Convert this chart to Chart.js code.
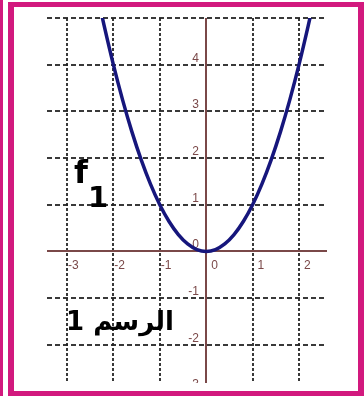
<!DOCTYPE html>
<html>
<head>
<meta charset="utf-8">
<script src="https://cdn.jsdelivr.net/npm/chart.js@4.4.1/dist/chart.umd.min.js"></script>
<style>
html,body{margin:0;padding:0;background:#fff;overflow:hidden;}
#wrap{position:relative;width:364px;height:396px;}
canvas{display:block;}
</style>
</head>
<body>
<div id="wrap"><canvas id="c" width="364" height="396"></canvas></div>
<script>
// values
const curveX = [-2.30,-2.20,-2.00,-1.80,-1.60,-1.40,-1.20,-1.00,-0.80,-0.60,-0.40,-0.20,0.00,0.20,0.40,0.60,0.80,1.00,1.20,1.40,1.60,1.80,2.00,2.20,2.30];
const curveY = [5.29,4.84,4.00,3.24,2.56,1.96,1.44,1.00,0.64,0.36,0.16,0.04,0.00,0.04,0.16,0.36,0.64,1.00,1.44,1.96,2.56,3.24,4.00,4.84,5.29];
const xTicks = [-3,-2,-1,0,1,2];
const xTickLabels = ["-3","-2","-1","0","1","2"];
const yTicks = [-3,-2,-1,0,1,2,3,4];
const yTickLabels = ["-3","-2","-1","0","1","2","3","4"];
const yGrid = [-2,-1,1,2,3,4,5];
const xGrid = [-3,-2,-1,1,2];
const curveName = "f";
const curveSub = "1";
const figureCaption = "الرسم 1";

const PINK = '#d2197e';
const AXIS = '#7a4848';
const GRID = 'rgba(35,35,35,0.9)';

const framePlugin = {
  id: 'frame',
  beforeDraw(chart) {
    const ctx = chart.ctx;
    ctx.save();
    ctx.fillStyle = '#fff';
    ctx.fillRect(0, 0, chart.width, chart.height);
    ctx.fillStyle = PINK;
    ctx.fillRect(0, 0, 3, 396);      // outer left band
    ctx.fillRect(8, 2, 6, 394);      // inner left
    ctx.fillRect(8, 2, 356, 5);      // top
    ctx.fillRect(358, 2, 6, 394);    // right
    ctx.fillRect(8, 391, 356, 5);    // bottom
    ctx.restore();
  }
};

const gridPlugin = {
  id: 'gridAxes',
  beforeDatasetsDraw(chart) {
    const {ctx, chartArea: a, scales: {x, y}} = chart;
    ctx.save();
    ctx.beginPath();
    ctx.rect(a.left, a.top - 1, a.right - a.left + 3, a.bottom - a.top + 1);
    ctx.clip();
    ctx.strokeStyle = GRID;
    ctx.lineWidth = 2;
    // horizontal grid
    ctx.setLineDash([5, 3]);
    yGrid.forEach(v => {
      const py = Math.round(y.getPixelForValue(v));
      ctx.beginPath();
      ctx.moveTo(a.left, py);
      ctx.lineTo(a.right, py);
      ctx.stroke();
    });
    // vertical grid
    ctx.setLineDash([3, 2]);
    xGrid.forEach(v => {
      const px = Math.round(x.getPixelForValue(v));
      ctx.beginPath();
      ctx.moveTo(px, a.top);
      ctx.lineTo(px, a.bottom);
      ctx.stroke();
    });
    ctx.setLineDash([]);
    // axes
    ctx.strokeStyle = AXIS;
    ctx.lineWidth = 2;
    const x0 = Math.round(x.getPixelForValue(0));
    const y0 = Math.round(y.getPixelForValue(0));
    ctx.beginPath();
    ctx.moveTo(a.left, y0);
    ctx.lineTo(a.right + 2, y0);
    ctx.stroke();
    ctx.beginPath();
    ctx.moveTo(x0, a.top);
    ctx.lineTo(x0, a.bottom);
    ctx.stroke();
    // tick labels
    ctx.fillStyle = AXIS;
    ctx.font = '12px "Liberation Sans", Arial, sans-serif';
    ctx.textBaseline = 'alphabetic';
    ctx.textAlign = 'left';
    const minusW = ctx.measureText('-').width;
    xTicks.forEach((v, i) => {
      const px = x.getPixelForValue(v);
      const t = xTickLabels[i];
      const off = t.startsWith('-') ? minusW : 0;
      ctx.fillText(t, px + 5 - off, y0 + 18);
    });
    ctx.textAlign = 'right';
    yTicks.forEach((v, i) => {
      const py = y.getPixelForValue(v);
      ctx.fillText(yTickLabels[i], x0 - 7, py - 3);
    });
    ctx.restore();
  },
  afterDatasetsDraw(chart) {
    const ctx = chart.ctx;
    ctx.save();
    ctx.fillStyle = '#000';
    ctx.textAlign = 'left';
    ctx.textBaseline = 'alphabetic';
    ctx.font = 'bold 32px "DejaVu Sans", sans-serif';
    ctx.fillText(curveName, 74, 183);
    ctx.font = 'bold 29px "DejaVu Sans", sans-serif';
    ctx.fillText(curveSub, 88, 207);
    ctx.direction = 'rtl';
    ctx.textAlign = 'right';
    ctx.font = 'bold 26px "DejaVu Sans", sans-serif';
    ctx.fillText(figureCaption, 174, 330);
    ctx.restore();
  }
};

new Chart(document.getElementById('c'), {
  type: 'scatter',
  data: {
    datasets: [{
      label: curveName + curveSub,
      data: curveX.map((v, i) => ({x: v, y: curveY[i]})),
      showLine: true,
      borderColor: '#16167c',
      borderWidth: 3.5,
      pointRadius: 0,
      tension: 0.4,
      cubicInterpolationMode: 'monotone',
      fill: false
    }]
  },
  options: {
    responsive: false,
    animation: false,
    devicePixelRatio: 1,
    layout: {padding: {left: 47, right: 39, top: 18, bottom: 13}},
    plugins: {legend: {display: false}, tooltip: {enabled: false}},
    scales: {
      x: {type: 'linear', min: -3.43, max: 2.56, display: false},
      y: {type: 'linear', min: -2.82, max: 5.0, display: false}
    }
  },
  plugins: [framePlugin, gridPlugin]
});
</script>
</body>
</html>
